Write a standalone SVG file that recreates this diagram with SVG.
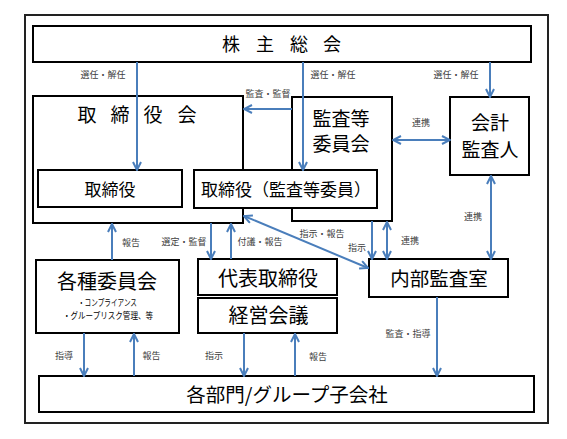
<svg xmlns="http://www.w3.org/2000/svg" width="567" height="439" viewBox="0 0 567 439">
<defs>
<style>
.box{fill:#fff;stroke:#000;stroke-width:2}
.t{font-family:"Noto Sans CJK JP","Noto Sans",sans-serif;fill:#000;text-anchor:middle}
.lb{font-family:"Noto Sans CJK JP","Noto Sans",sans-serif;fill:#404040;font-size:9px;text-anchor:middle}
.c{fill:none;stroke:#4a7ebb;stroke-width:2}
</style>
<marker id="ah" viewBox="0 0 10 10" refX="9" refY="5" markerWidth="10" markerHeight="10" markerUnits="userSpaceOnUse" orient="auto-start-reverse">
<path d="M1,1 L9,5 L1,9" fill="none" stroke="#4a7ebb" stroke-width="2"/>
</marker>
</defs>
<rect x="0" y="0" width="567" height="439" fill="#fff"/>
<rect x="25" y="15" width="523" height="408" fill="#fff" stroke="#222" stroke-width="2"/>

<g id="shareholders">
<rect class="box" x="33" y="26" width="498" height="36"/>
<text class="t" font-size="18" x="231 265 299 332" y="51">株主総会</text>
</g>
<g id="board">
<rect class="box" x="33" y="96" width="210" height="127"/>
<text class="t" font-size="19" x="87 120 153 187" y="122">取締役会</text>
</g>
<g id="directors">
<rect class="box" x="38" y="170" width="144" height="37"/>
<text class="t" font-size="17" x="110" y="195.5">取締役</text>
</g>
<g id="audit-committee">
<rect class="box" x="292" y="97" width="100" height="124"/>
<text class="t" font-size="19" x="341" y="126">監査等</text>
<text class="t" font-size="19" x="341" y="151">委員会</text>
</g>
<g id="audit-directors">
<rect class="box" x="194" y="170" width="183" height="38"/>
<text class="t" font-size="17" x="286" y="195.5">取締役（監査等委員）</text>
</g>
<g id="accounting-auditor">
<rect class="box" x="450" y="97" width="79" height="78"/>
<text class="t" font-size="19" x="490" y="130">会計</text>
<text class="t" font-size="19" x="490" y="157">監査人</text>
</g>
<g id="internal-audit">
<rect class="box" x="369" y="259" width="139" height="38"/>
<text class="t" font-size="19.5" x="439" y="286">内部監査室</text>
</g>
<g id="committees">
<rect class="box" x="36" y="260" width="143" height="73"/>
<text class="t" font-size="20" x="107" y="289">各種委員会</text>
<text class="t" font-size="9" x="107.5" y="306" textLength="59" lengthAdjust="spacingAndGlyphs">・コンプライアンス</text>
<text class="t" font-size="9" x="108" y="319" textLength="90" lengthAdjust="spacingAndGlyphs">・グループリスク管理、等</text>
</g>
<g id="representative">
<rect class="box" x="198" y="259" width="139" height="36"/>
<text class="t" font-size="20" x="268" y="286">代表取締役</text>
</g>
<g id="management-meeting">
<rect class="box" x="198" y="298" width="139" height="35"/>
<text class="t" font-size="20" x="268.5" y="322.5">経営会議</text>
</g>
<g id="departments">
<rect class="box" x="39" y="376" width="495" height="36"/>
<text class="t" font-size="19.5" x="287" y="402">各部門/グループ子会社</text>
</g>

<g id="connectors">
<path class="c" d="M137,62 V170" marker-end="url(#ah)"/>
<path class="c" d="M303,62 V170" marker-end="url(#ah)"/>
<path class="c" d="M490,62 V97" marker-end="url(#ah)"/>
<path class="c" d="M292,109 H244" marker-end="url(#ah)"/>
<path class="c" d="M393,140 H450" marker-start="url(#ah)" marker-end="url(#ah)"/>
<path class="c" d="M491,176 V259" marker-start="url(#ah)" marker-end="url(#ah)"/>
<path class="c" d="M372,221 V259" marker-end="url(#ah)"/>
<path class="c" d="M387,222 V259" marker-start="url(#ah)" marker-end="url(#ah)"/>
<path class="c" d="M244,216 L368,268" marker-start="url(#ah)" marker-end="url(#ah)"/>
<path class="c" d="M211,223 V259" marker-end="url(#ah)"/>
<path class="c" d="M231,259 V224" marker-end="url(#ah)"/>
<path class="c" d="M112,260 V224" marker-end="url(#ah)"/>
<path class="c" d="M84,333 V376" marker-end="url(#ah)"/>
<path class="c" d="M134,376 V334" marker-end="url(#ah)"/>
<path class="c" d="M244,333 V376" marker-end="url(#ah)"/>
<path class="c" d="M295,376 V334" marker-end="url(#ah)"/>
<path class="c" d="M437,297 V376" marker-end="url(#ah)"/>
</g>

<g id="labels">
<text class="lb" x="103" y="78">選任・解任</text>
<text class="lb" x="333" y="78">選任・解任</text>
<text class="lb" x="456" y="78">選任・解任</text>
<text class="lb" x="268" y="97">監査・監督</text>
<text class="lb" x="421" y="126">連携</text>
<text class="lb" x="473" y="220">連携</text>
<text class="lb" x="322" y="237">指示・報告</text>
<text class="lb" x="357" y="251">指示</text>
<text class="lb" x="410" y="244">連携</text>
<text class="lb" x="184" y="245">選定・監督</text>
<text class="lb" x="260" y="245">付議・報告</text>
<text class="lb" x="131" y="246">報告</text>
<text class="lb" x="64" y="359">指導</text>
<text class="lb" x="151.5" y="359">報告</text>
<text class="lb" x="214" y="359">指示</text>
<text class="lb" x="318" y="360">報告</text>
<text class="lb" x="408" y="337">監査・指導</text>
</g>
</svg>
